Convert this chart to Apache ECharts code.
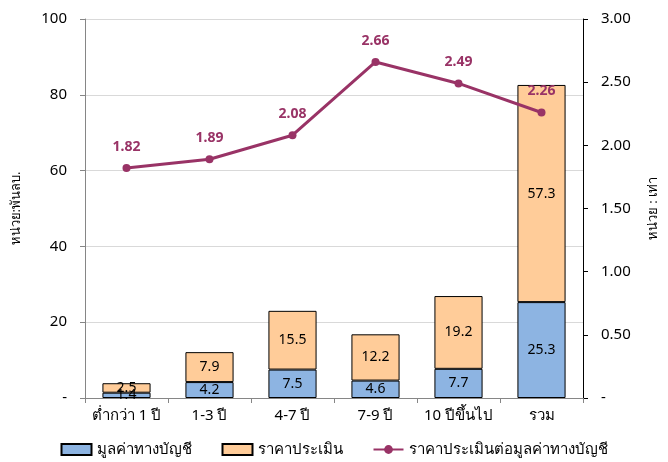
<!DOCTYPE html>
<html>
<head>
<meta charset="utf-8">
<script src="https://cdn.jsdelivr.net/npm/echarts@6/dist/echarts.min.js"></script>
<style>
  html, body { margin: 0; padding: 0; background: #fff; }
  #chart { width: 668px; height: 462px; }
</style>
</head>
<body>
<div id="chart"></div>
<script>
// Maturity buckets and values (unit: million baht for bars, ratio for line)
const categories = ['ต่ำกว่า 1 ปี', '1-3 ปี', '4-7 ปี', '7-9 ปี', '10 ปีขึ้นไป', 'รวม'];
const bookValue = [1.4, 4.2, 7.5, 4.6, 7.7, 25.3];
const appraisal = [2.5, 7.9, 15.5, 12.2, 19.2, 57.3];
const ratio = [1.82, 1.89, 2.08, 2.66, 2.49, 2.26];

const seriesNames = ['มูลค่าทางบัญชี', 'ราคาประเมิน', 'ราคาประเมินต่อมูลค่าทางบัญชี'];
const leftAxisName = 'หน่วย:พันลบ.';
const rightAxisName = 'หน่วย : เท่า';

const FONT = '"Noto Sans", Tahoma, sans-serif';

const chart = echarts.init(document.getElementById('chart'), null, { renderer: 'canvas' });

const barLabel = {
  show: true,
  position: 'inside',
  color: '#000',
  fontSize: 14,
  fontFamily: FONT,
  formatter: p => p.value.toFixed(1)
};

chart.setOption({
  animation: false,
  textStyle: { fontFamily: FONT },
  grid: { left: 85, right: 85, top: 19, bottom: 64 },
  legend: {
    bottom: 0,
    left: 'center',
    itemGap: 30,
    itemWidth: 30,
    itemHeight: 11,
    textStyle: { fontSize: 15, color: '#000', fontFamily: FONT },
    data: [
      { name: seriesNames[0], icon: 'rect' },
      { name: seriesNames[1], icon: 'rect' },
      { name: seriesNames[2] }
    ]
  },
  xAxis: {
    type: 'category',
    data: categories,
    axisLine: { lineStyle: { color: '#868686', width: 1 } },
    axisTick: { show: true, alignWithLabel: false, length: 5, lineStyle: { color: '#868686' } },
    axisLabel: { color: '#000', fontSize: 15, margin: 10, interval: 0, fontFamily: FONT }
  },
  yAxis: [
    {
      type: 'value',
      min: 0, max: 100, interval: 20,
      name: leftAxisName,
      nameLocation: 'middle',
      nameGap: 62,
      nameRotate: 90,
      nameTextStyle: { color: '#000', fontSize: 13, fontFamily: FONT },
      axisLine: { show: true, lineStyle: { color: '#868686' } },
      axisTick: { show: true, length: 5, lineStyle: { color: '#868686' } },
      axisLabel: {
        color: '#000', fontSize: 15, margin: 18, fontFamily: FONT,
        formatter: v => v === 0 ? '-' : String(v)
      },
      splitLine: { show: true, lineStyle: { color: '#D9D9D9', width: 1 } }
    },
    {
      type: 'value',
      min: 0, max: 3, interval: 0.5,
      name: rightAxisName,
      nameLocation: 'middle',
      nameGap: 64,
      nameRotate: 90,
      nameTextStyle: { color: '#000', fontSize: 13, fontFamily: FONT },
      axisLine: { show: true, lineStyle: { color: '#000' } },
      axisTick: { show: true, length: 5, lineStyle: { color: '#000' } },
      axisLabel: {
        color: '#000', fontSize: 15, margin: 18, fontFamily: FONT,
        formatter: v => v === 0 ? '-' : v.toFixed(2)
      },
      splitLine: { show: false }
    }
  ],
  series: [
    {
      name: seriesNames[0],
      type: 'bar',
      stack: 'total',
      barWidth: '58%',
      data: bookValue,
      itemStyle: { color: '#8DB4E2', borderColor: '#000', borderWidth: 1 },
      label: barLabel
    },
    {
      name: seriesNames[1],
      type: 'bar',
      stack: 'total',
      barWidth: '58%',
      data: appraisal,
      itemStyle: { color: '#FFCC99', borderColor: '#000', borderWidth: 1 },
      label: barLabel
    },
    {
      name: seriesNames[2],
      type: 'line',
      yAxisIndex: 1,
      data: ratio,
      symbol: 'circle',
      symbolSize: 8,
      lineStyle: { color: '#993366', width: 3 },
      itemStyle: { color: '#993366' },
      label: {
        show: true,
        position: 'top',
        distance: 10,
        color: '#993366',
        fontWeight: 'bold',
        fontSize: 14,
        fontFamily: FONT,
        formatter: p => p.value.toFixed(2)
      },
      z: 5
    }
  ]
});
</script>
</body>
</html>
